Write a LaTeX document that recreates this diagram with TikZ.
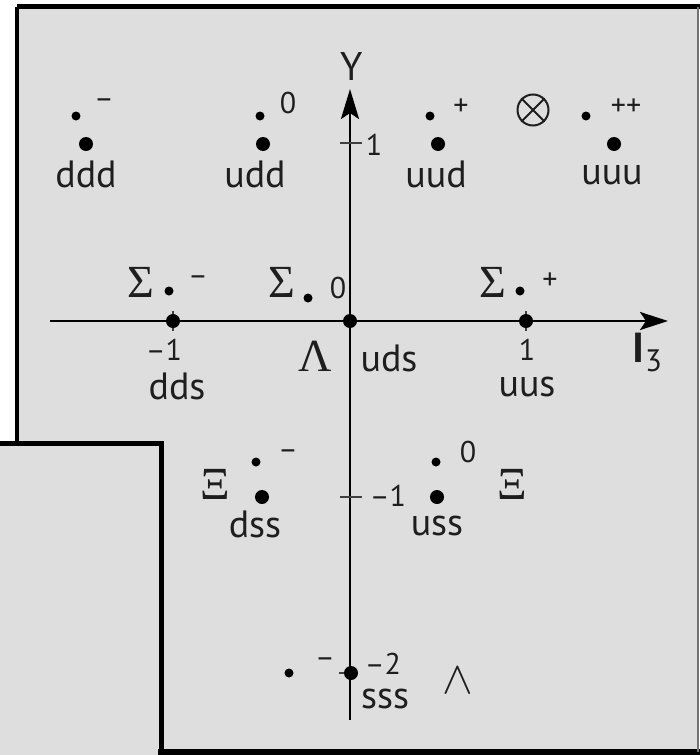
\RequirePackage{fix-cm}
\documentclass[tikz,border=0pt]{standalone}
\usepackage{fontspec}
\setmainfont{PT Sans}
\newfontfamily\grkfont{Liberation Serif}
\usetikzlibrary{arrows.meta}
\definecolor{paper}{HTML}{DEDEDE}
\definecolor{ink}{HTML}{1E1E1E}
\tikzset{
  bigdot/.style={circle,fill=black,inner sep=0pt,minimum size=14pt},
  smalldot/.style={circle,fill=black,inner sep=0pt,minimum size=9pt},
  lbl/.style={inner sep=0pt,text=ink,font=\fontsize{38}{42}\selectfont},
  num/.style={inner sep=0pt,text=ink,font=\fontsize{30}{34}\selectfont},
  charge/.style={inner sep=0pt,text=ink,font=\fontsize{30}{34}\selectfont},
  greek/.style={inner sep=0pt,text=ink,font=\grkfont\fontsize{46}{50}\selectfont},
  axisline/.style={line width=2.6pt,draw=black},
  tickline/.style={line width=2.2pt,draw=black!75},
  border/.style={line width=5pt,draw=black},
}
\begin{document}
\begin{tikzpicture}[x=1pt,y=-1pt]
\useasboundingbox (0,0) rectangle (700,755);
% paper
\fill[white] (0,0) rectangle (700,755);
\fill[paper] (17,7) rectangle (698,752);
\fill[paper] (0,443) rectangle (161,755);
% frame
\draw[border] (17,6) -- (700,6);
\draw[line width=4pt] (17,7) -- (17,445);
\draw[border] (0,443) -- (163,443);
\draw[border] (161,441) -- (161,755);
\draw[line width=6pt] (158,752) -- (700,752);
\draw[line width=1.5pt,draw=black!55] (698,7) -- (698,752);

% axes
\coordinate (ybot) at (350,720);
\coordinate (ytop) at (350,89);
\coordinate (xleft) at (50,321);
\coordinate (xright) at (668,321);
\draw[axisline,-{Stealth[length=30pt,width=18pt,inset=6pt]}] (ybot) -- (ytop);
\draw[axisline,-{Stealth[length=28pt,width=18pt,inset=6pt]}] (xleft) -- (xright);
\node[inner sep=0pt,text=ink,font=\fontsize{40}{44}\selectfont] (ylab) at (352,66) {Y};
\node[inner sep=0pt,text=ink,anchor=base west,font=\fontsize{42}{46}\selectfont] (ilab) at (632,362) {\bfseries I\kern1pt\raisebox{-9pt}{\mdseries\fontsize{31}{34}\selectfont 3}};

% ticks on Y axis
\coordinate (t1a) at (340,143); \coordinate (t1b) at (362,143);
\coordinate (tm1a) at (340,497); \coordinate (tm1b) at (362,497);
\coordinate (tm2a) at (339,673);
\draw[tickline] (t1a) -- (t1b);
\draw[tickline] (tm1a) -- (tm1b);
\node[num] (n1) at (374,145) {1};
\node[num] (nm1) at (388,496) {–1};
\node[num] (nm2) at (383,664) {–2};

% ticks on I3 axis
\coordinate (xa1) at (173,311); \coordinate (xa2) at (173,331);
\coordinate (xb1) at (526,311); \coordinate (xb2) at (526,331);
\draw[tickline] (xa1) -- (xa2);
\draw[tickline] (xb1) -- (xb2);
\node[num] (xm1) at (164,350) {–1};
\node[num] (xp1) at (527,350) {1};

% decuplet row Y=1
\node[bigdot] (ddd) at (86,144) {};
\node[bigdot] (udd) at (263,144) {};
\node[bigdot] (uud) at (438,144) {};
\node[bigdot] (uuu) at (614,144) {};
\node[lbl] (lddd) at (86,174) {ddd};
\node[lbl] (ludd) at (255,174) {udd};
\node[lbl] (luud) at (436,174) {uud};
\node[lbl] (luuu) at (612,175) {uuu};
\node[smalldot] (sddd) at (76,116) {};
\node[smalldot] (sudd) at (260,116) {};
\node[smalldot] (suud) at (430,116) {};
\node[smalldot] (suuu) at (586,116) {};
\node[charge] (cddd) at (104,104) {–};
\node[charge] (cudd) at (288,103) {0};
\node[charge] (cuud) at (461,107) {+};
\node[charge] (cuuu) at (626,107) {++};
\node[circle,draw=ink,line width=2pt,minimum size=31pt,inner sep=0pt] (otimes) at (533,110) {};
\draw[ink,line width=2pt] (otimes.north east) -- (otimes.south west);
\draw[ink,line width=2pt] (otimes.north west) -- (otimes.south east);

% Sigma row
\node[greek] (sgm) at (141,282) {Σ};
\node[smalldot] (dsgm) at (169,291) {};
\node[charge] (csgm) at (198,281) {–};
\node[greek] (sg0) at (282,282) {Σ};
\node[smalldot] (dsg0) at (308,298) {};
\node[charge] (csg0) at (338,288) {0};
\node[greek] (sgp) at (493,282) {Σ};
\node[smalldot] (dsgp) at (520,291) {};
\node[charge] (csgp) at (550,281) {+};

% Y=0 row
\node[bigdot] (dds) at (173,321) {};
\node[bigdot] (uds) at (350,321) {};
\node[bigdot] (uus) at (526,321) {};
\node[lbl] (ldds) at (177,386) {dds};
\node[lbl] (luds) at (389,358) {uds};
\node[lbl] (luus) at (527,387) {uus};
\node[greek] (lam) at (315,356) {Λ};

% Xi row
\node[greek] (xim) at (215,484) {Ξ};
\node[smalldot] (dxim) at (256,462) {};
\node[charge] (cxim) at (288,455) {–};
\node[bigdot] (dss) at (262,497) {};
\node[lbl] (ldss) at (255,524) {dss};
\node[smalldot] (dxi0) at (436,462) {};
\node[charge] (cxi0) at (468,452) {0};
\node[bigdot] (uss) at (437,497) {};
\node[lbl] (luss) at (437,526) {uss};
\node[greek] (xi0) at (512,484) {Ξ};

% Omega
\node[smalldot] (dom) at (289,673) {};
\node[charge] (com) at (325,663) {–};
\node[bigdot] (sss) at (351,673) {};
\draw[tickline] (tm2a) -- (sss);
\node[lbl] (lsss) at (385,699) {sss};
\node[inner sep=0pt,text=ink,font=\fontsize{46}{50}\selectfont] (wedge) at (458,681) {$\wedge$};
\end{tikzpicture}
\end{document}
